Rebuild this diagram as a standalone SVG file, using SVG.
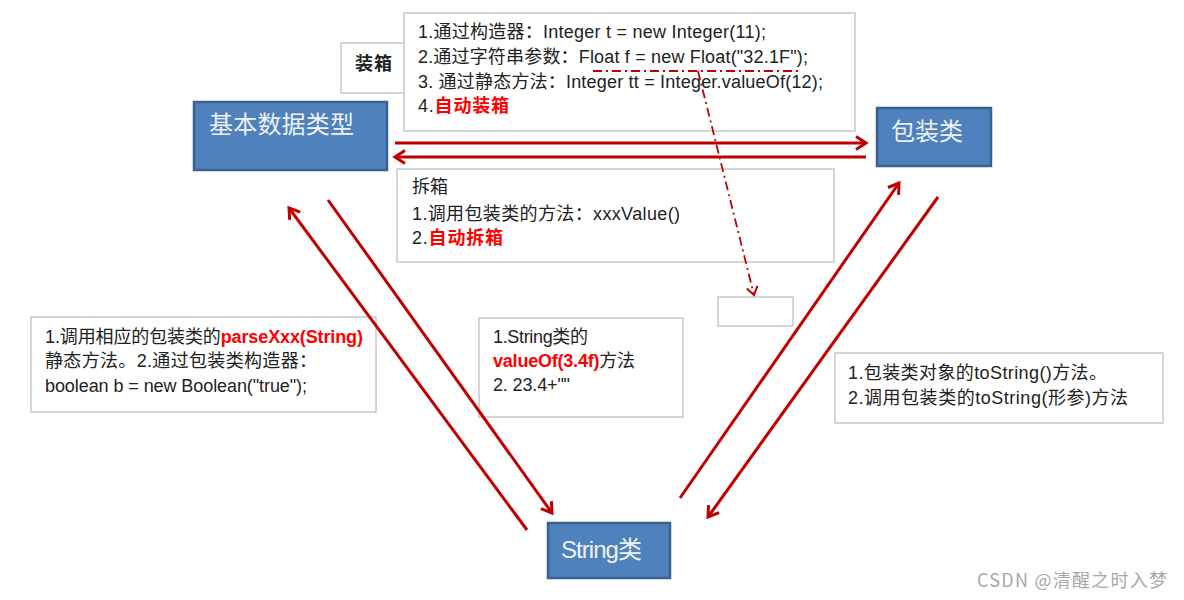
<svg xmlns="http://www.w3.org/2000/svg" width="1184" height="600" viewBox="0 0 1184 600">
<style>
.node{fill:#4f81bd;stroke:#3a6290;stroke-width:2.5}
.nt{fill:#eef2f8;font-family:"Liberation Sans","Noto Sans CJK SC",sans-serif;font-size:24px}
.box{fill:#fff;stroke:#c8c8c8;stroke-width:1.5}
.t{fill:#222;font-family:"Liberation Sans","Noto Sans CJK SC",sans-serif;font-size:18px}
.r{fill:#ff0000;font-weight:bold}
.arr{stroke:#c00000;stroke-width:3;fill:none}
.dd{stroke:#c00000;stroke-width:1.8;fill:none;stroke-dasharray:9 4 2 4}
.wm{fill:#a8a8a8;font-family:"Noto Sans CJK SC","Liberation Sans",sans-serif;font-size:18px}
</style>
<defs>
<marker id="ah" viewBox="0 0 16 16" refX="13" refY="8" markerWidth="16" markerHeight="16" markerUnits="userSpaceOnUse" orient="auto">
<path d="M3,1.5 L13,8 L3,14.5" fill="none" stroke="#c00000" stroke-width="3"/>
</marker>
<marker id="ahs" viewBox="0 0 14 14" refX="11" refY="7" markerWidth="14" markerHeight="14" markerUnits="userSpaceOnUse" orient="auto">
<path d="M3,1.5 L11,7 L3,12.5" fill="none" stroke="#c00000" stroke-width="2"/>
</marker>
</defs>

<g id="node-basic">
<rect class="node" x="194" y="102" width="193" height="68"/>
<text class="nt" x="209" y="133" textLength="145" lengthAdjust="spacing">基本数据类型</text>
</g>
<g id="node-wrapper">
<rect class="node" x="877" y="108" width="114" height="58"/>
<text class="nt" x="891" y="140" textLength="72" lengthAdjust="spacing">包装类</text>
</g>
<g id="node-string">
<rect class="node" x="548" y="523" width="122" height="55"/>
<text class="nt" x="561" y="558" textLength="81" lengthAdjust="spacing">String类</text>
</g>

<g id="label-boxing">
<rect class="box" x="341" y="43" width="67" height="50"/>
<text class="t" x="355" y="70" font-weight="bold" textLength="37" lengthAdjust="spacing">装箱</text>
</g>

<g id="note-boxing">
<rect class="box" x="404" y="13" width="451" height="118"/>
<text class="t" x="418" y="38" textLength="348" lengthAdjust="spacing">1.通过构造器：Integer t = new Integer(11);</text>
<text class="t" x="418" y="63" textLength="390" lengthAdjust="spacing">2.通过字符串参数：Float f = new Float("32.1F");</text>
<text class="t" x="418" y="88" textLength="405" lengthAdjust="spacing">3. 通过静态方法：Integer tt = Integer.valueOf(12);</text>
<text class="t" x="418" y="112" textLength="91" lengthAdjust="spacing">4.<tspan class="r">自动装箱</tspan></text>
</g>

<g id="note-unboxing">
<rect class="box" x="397" y="169" width="437" height="93"/>
<text class="t" x="412" y="193" textLength="36" lengthAdjust="spacing">拆箱</text>
<text class="t" x="412" y="220" textLength="268" lengthAdjust="spacing">1.调用包装类的方法：xxxValue()</text>
<text class="t" x="412" y="244" textLength="91" lengthAdjust="spacing">2.<tspan class="r">自动拆箱</tspan></text>
</g>

<g id="note-empty">
<rect class="box" x="718" y="297" width="75" height="29"/>
</g>

<g id="note-parse">
<rect class="box" x="31" y="317" width="345" height="95"/>
<text class="t" x="45" y="343" textLength="318" lengthAdjust="spacing">1.调用相应的包装类的<tspan class="r">parseXxx(String)</tspan></text>
<text class="t" x="45" y="367" textLength="272" lengthAdjust="spacing">静态方法。2.通过包装类构造器：</text>
<text class="t" x="45" y="392" textLength="262" lengthAdjust="spacing">boolean b = new Boolean("true");</text>
</g>

<g id="note-valueof">
<rect class="box" x="479" y="318" width="204" height="99"/>
<text class="t" x="493" y="343" textLength="95" lengthAdjust="spacing">1.String类的</text>
<text class="t" x="493" y="367" textLength="142" lengthAdjust="spacing"><tspan class="r">valueOf(3.4f)</tspan>方法</text>
<text class="t" x="493" y="391" textLength="77" lengthAdjust="spacing">2. 23.4+""</text>
</g>

<g id="note-tostring">
<rect class="box" x="835" y="353" width="328" height="70"/>
<text class="t" x="848" y="379" textLength="259" lengthAdjust="spacing">1.包装类对象的toString()方法。</text>
<text class="t" x="848" y="404" textLength="280" lengthAdjust="spacing">2.调用包装类的toString(形参)方法</text>
</g>

<g id="connectors">
<line class="arr" x1="395" y1="143" x2="866" y2="143" marker-end="url(#ah)"/>
<line class="arr" x1="866" y1="157" x2="395" y2="157" marker-end="url(#ah)"/>
<line class="arr" x1="328" y1="200" x2="552" y2="513" marker-end="url(#ah)"/>
<line class="arr" x1="527" y1="530" x2="289" y2="208" marker-end="url(#ah)"/>
<line class="arr" x1="680" y1="498" x2="899" y2="183" marker-end="url(#ah)"/>
<line class="arr" x1="938" y1="197" x2="708" y2="517" marker-end="url(#ah)"/>
<line class="dd" x1="593" y1="71" x2="800" y2="71"/>
<line class="dd" x1="698" y1="71" x2="754" y2="295" marker-end="url(#ahs)"/>
</g>

<text class="wm" x="977" y="587" textLength="190" lengthAdjust="spacing">CSDN @清醒之时入梦</text>
</svg>
